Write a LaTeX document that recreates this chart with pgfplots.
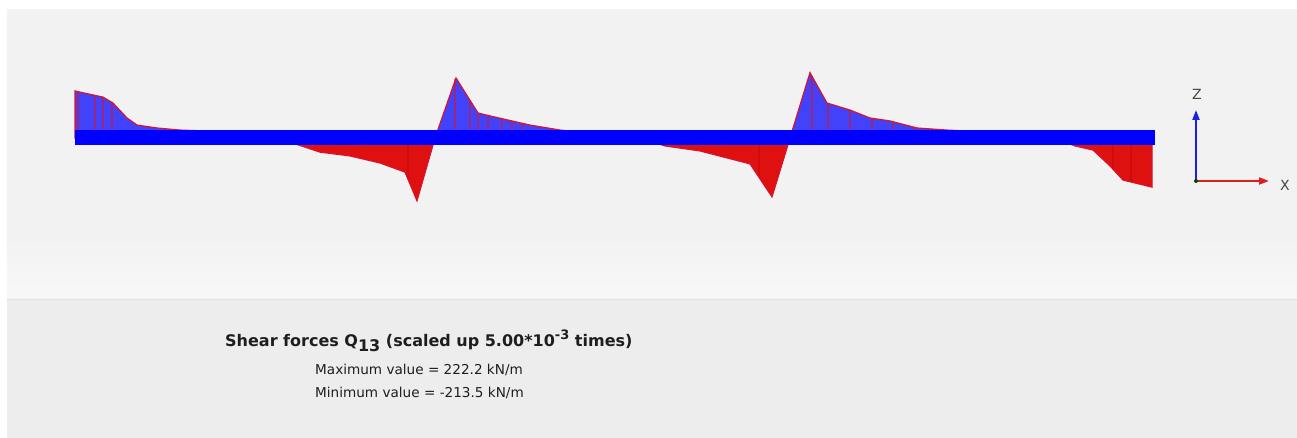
\documentclass[border=0pt]{standalone}
\usepackage{pgfplots}
\pgfplotsset{compat=1.18}
\usepackage{fontspec}
\setmainfont{DejaVu Sans}
\usetikzlibrary{arrows.meta}
\definecolor{bgtop}{RGB}{242,242,242}
\definecolor{bgtop2}{RGB}{248,248,248}
\definecolor{bgbot}{RGB}{237,237,237}
\definecolor{bgline}{RGB}{226,226,226}
\definecolor{fillblue}{RGB}{66,66,250}
\definecolor{fillred}{RGB}{222,16,16}
\definecolor{outl}{RGB}{215,20,45}
\definecolor{beam}{RGB}{0,0,255}
\definecolor{txt}{RGB}{30,30,30}
\definecolor{triadx}{RGB}{220,30,30}
\definecolor{triadz}{RGB}{30,30,230}
\definecolor{triadlab}{RGB}{70,70,70}
\begin{document}
\begin{tikzpicture}[x=1pt,y=1pt]
\useasboundingbox (0,0) rectangle (1297,438);
\fill[white] (0,0) rectangle (1297,438);
\fill[bgtop] (7,138) rectangle (1297,429);
\shade[top color=bgtop, bottom color=bgtop2] (7,140) rectangle (1297,200);
\fill[bgbot] (7,0) rectangle (1297,138);
\draw[bgline, line width=1.5pt] (7,138.5) -- (1297,138.5);
\begin{axis}[
  at={(75pt,200pt)}, anchor=south west,
  width=1080pt, height=200pt, scale only axis,
  xmin=0, xmax=18, ymin=-340, ymax=340,
  hide axis, clip=false]
% positive (blue) parts
\addplot[fill=fillblue, draw=outl, line width=1.2pt] coordinates {
 (0,0) (0,160) (0.083,156) (0.467,139) (0.633,119) (0.867,68) (1.033,44)
 (1.367,34) (1.75,27) (2.167,24) (2.75,14) (3.217,0)} \closedcycle;
\addplot[fill=fillblue, draw=outl, line width=1.2pt] coordinates {
 (6,0) (6.35,204) (6.717,85) (6.917,75) (7.583,44) (8.083,27) (8.75,14) (9.417,0)} \closedcycle;
\addplot[fill=fillblue, draw=outl, line width=1.2pt] coordinates {
 (11.917,0) (12.25,222.2) (12.533,119) (12.917,95) (13.25,68) (13.583,58)
 (14.033,34) (14.533,27) (15.25,20) (15.917,10) (16.333,0)} \closedcycle;
% negative (red) parts
\addplot[fill=fillred, draw=outl, line width=1.2pt] coordinates {
 (3.217,0) (3.583,-14) (4.083,-48) (4.583,-61) (5.083,-85) (5.5,-116) (5.7,-213.5) (6,0)} \closedcycle;
\addplot[fill=fillred, draw=outl, line width=1.2pt] coordinates {
 (9.417,0) (9.833,-27) (10.417,-44) (11.25,-88) (11.617,-200) (11.917,0)} \closedcycle;
\addplot[fill=fillred, draw=outl, line width=1.2pt] coordinates {
 (16.333,0) (16.667,-27) (16.967,-41) (17.25,-95) (17.467,-143) (17.95,-167) (17.95,0)} \closedcycle;
% ordinate lines
\addplot[ycomb, outl, opacity=0.6, line width=1.5pt] coordinates {
 (0.05,158) (0.333,145) (0.467,139) (0.617,121)
 (6.333,200) (6.583,128) (6.717,85) (6.883,76) (7.117,66) (7.283,58) (7.45,50)
 (12.283,210) (12.55,118) (12.917,95) (13.283,67) (13.633,55) (14.0,36)};
\addplot[ycomb, red!70!black, opacity=0.3, line width=1.5pt] coordinates {
 (5.55,-140) (11.4,-130) (17.3,-105) (17.6,-150)};
% beam
\addplot[beam, line width=15pt] coordinates {(0,0) (18,0)};
\end{axis}
% coordinate triad
\draw[triadx, line width=2pt, -{Triangle[length=10pt,width=7pt]}] (1196,257) -- (1269,257);
\draw[triadz, line width=2pt, -{Triangle[length=10pt,width=7pt]}] (1196,257) -- (1196,328);
\fill[black!70!green] (1196,257) circle (2pt);
\node[text=triadlab, font=\fontsize{14}{16}\selectfont] at (1197,344) {Z};
\node[text=triadlab, font=\fontsize{14}{16}\selectfont] at (1285,253) {X};
% texts
\node[anchor=base west, inner sep=0, text=txt, font=\fontsize{16}{19}\selectfont\bfseries] at (225,91)
 {Shear forces Q\raisebox{-5pt}{13} (scaled up 5.00*10\raisebox{7pt}{\fontsize{13}{15}\selectfont -3} times)};
\node[anchor=base west, inner sep=0, text=txt, font=\fontsize{13.6}{16}\selectfont] at (315,63)
 {Maximum value = 222.2 kN/m};
\node[anchor=base west, inner sep=0, text=txt, font=\fontsize{13.6}{16}\selectfont] at (315,40)
 {Minimum value = -213.5 kN/m};
\end{tikzpicture}
\end{document}
